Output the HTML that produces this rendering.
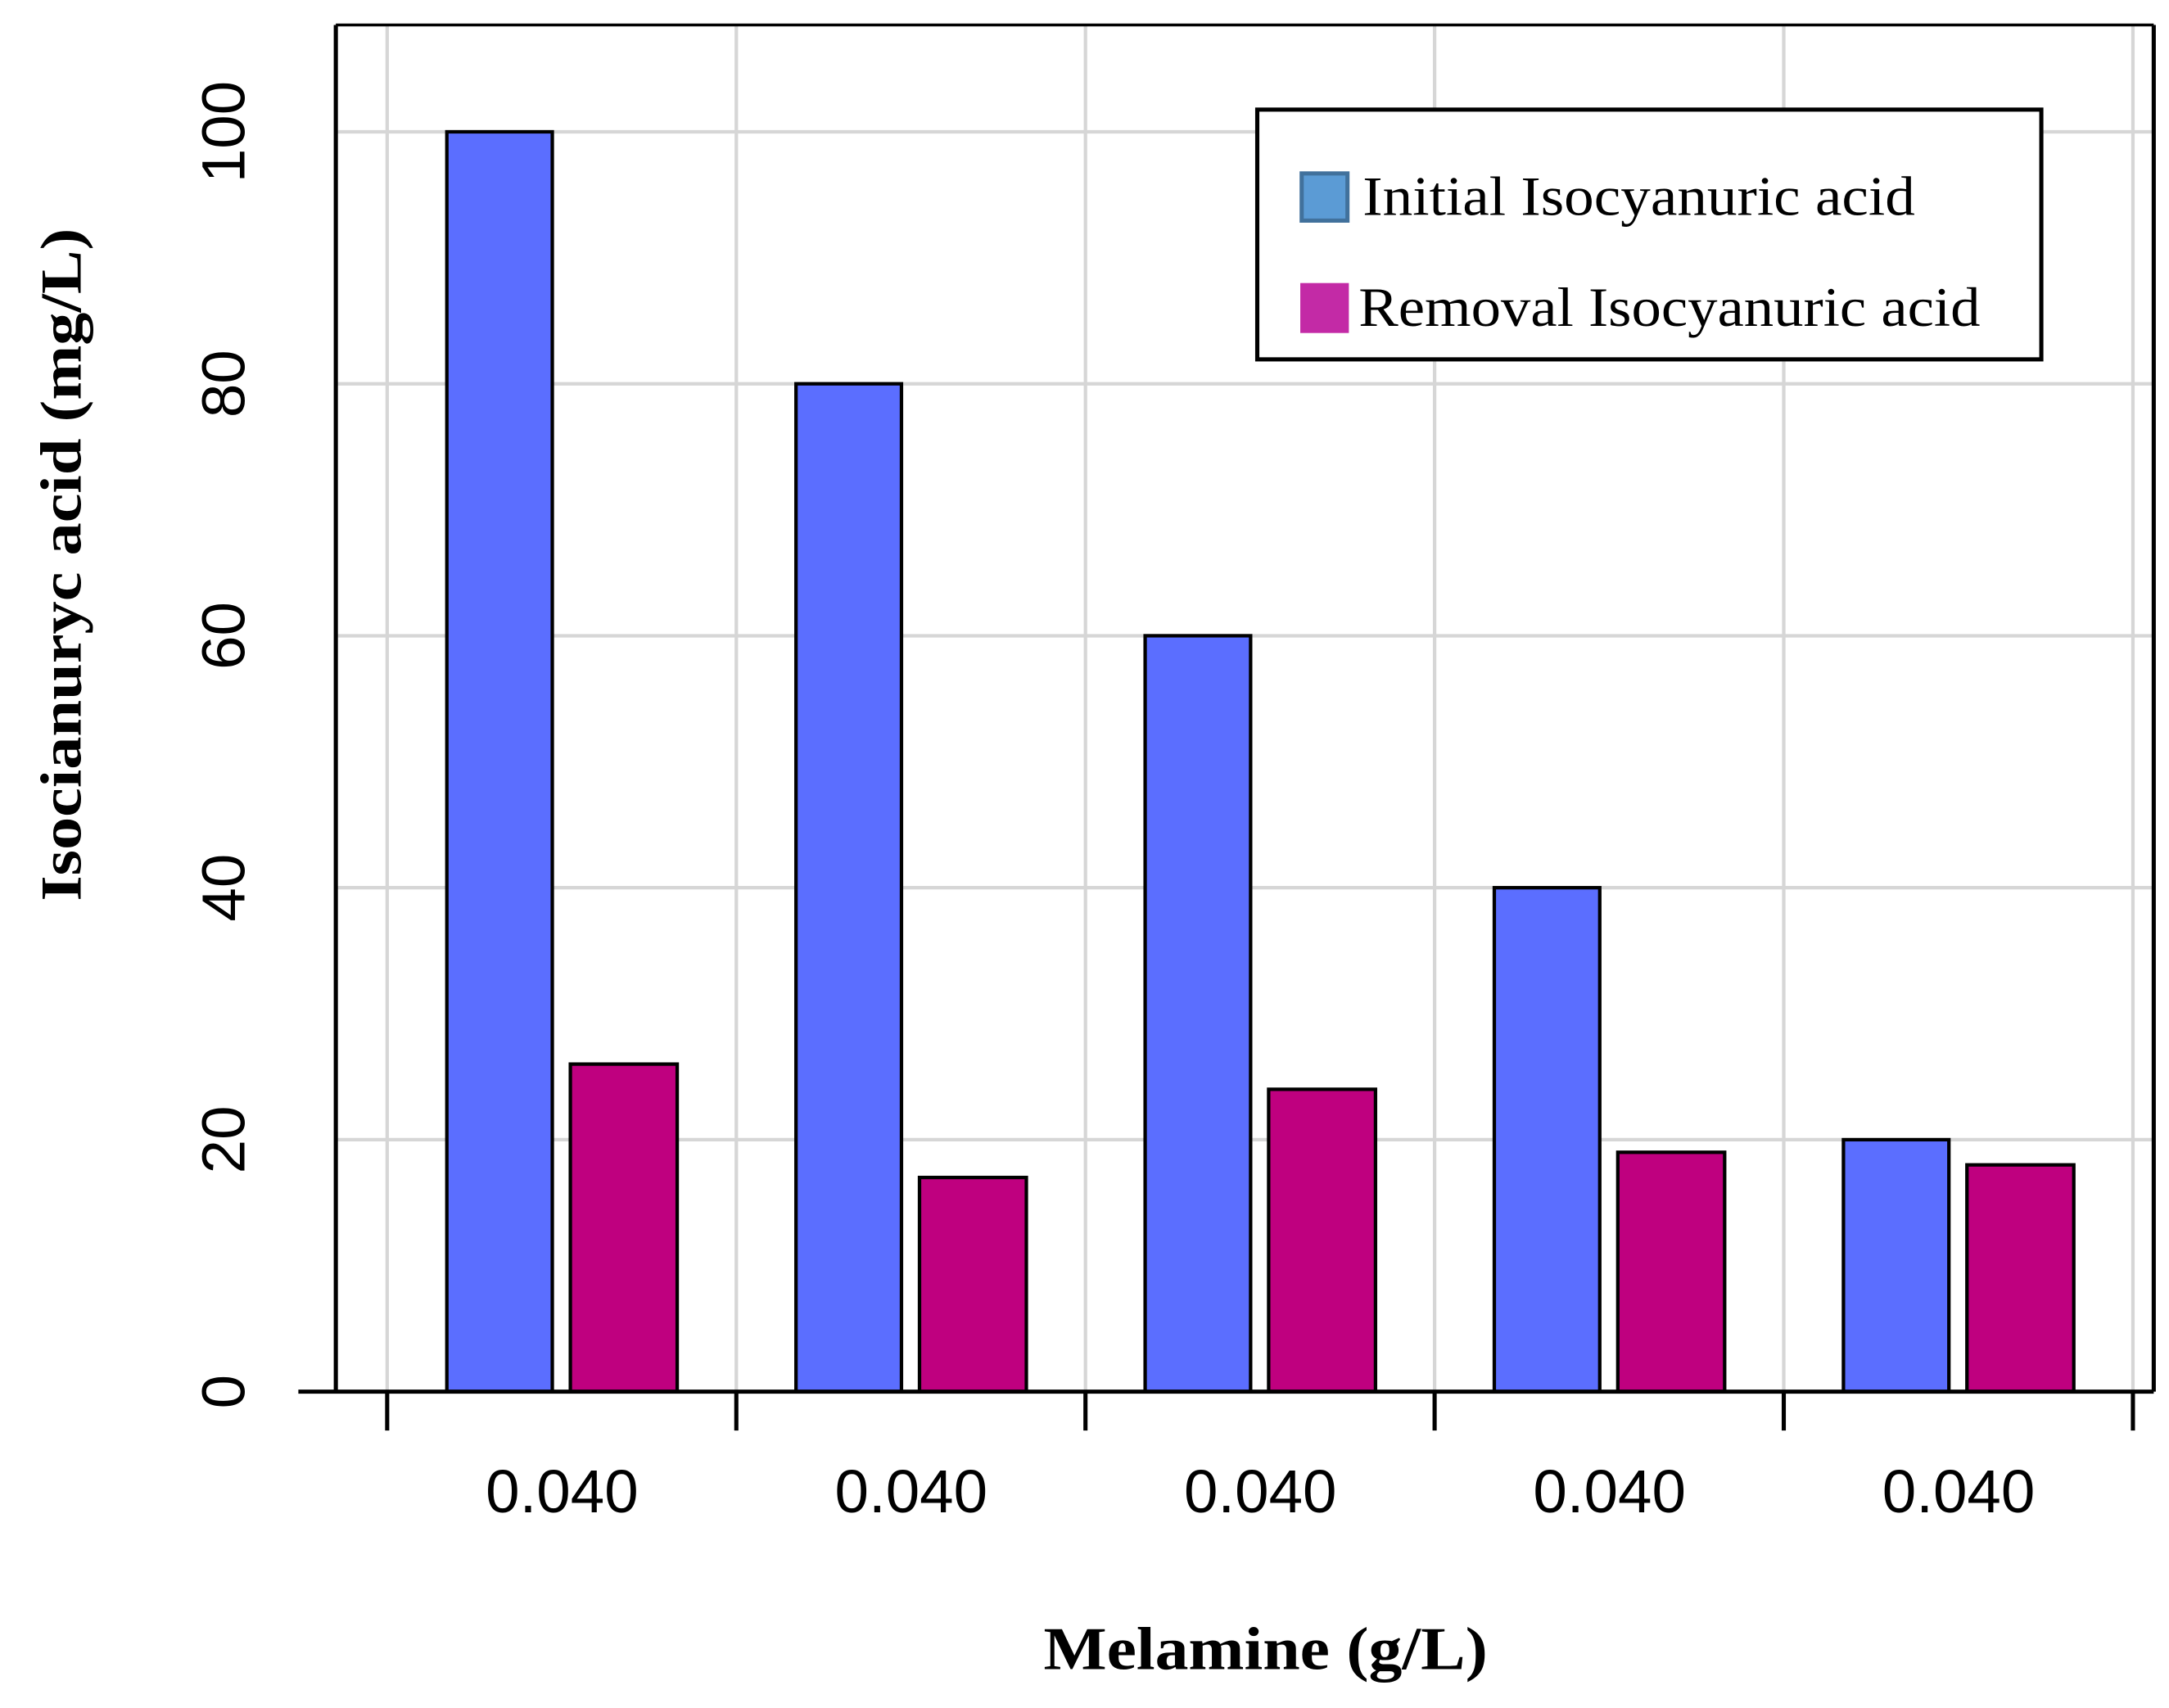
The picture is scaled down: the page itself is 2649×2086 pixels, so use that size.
<!DOCTYPE html>
<html><head><meta charset="utf-8"><style>html,body{margin:0;padding:0;background:#fff}svg{display:block}</style></head>
<body>
<svg id="chart" width="2649" height="2086" viewBox="0 0 1563 1231" preserveAspectRatio="none" xmlns="http://www.w3.org/2000/svg">
<rect x="0" y="0" width="1563" height="1231" fill="#fff"/>
<g id="grid"></g>
<g id="bars"></g>
<g id="axes"></g>
<text transform="translate(58,407) rotate(-90)" text-anchor="middle" font-family="Liberation Serif, serif" font-weight="bold" font-size="42" textLength="485" lengthAdjust="spacingAndGlyphs">Isocianuryc acid (mg/L)</text>
<text x="912" y="1203" text-anchor="middle" font-family="Liberation Serif, serif" font-weight="bold" font-size="44" textLength="320" lengthAdjust="spacingAndGlyphs">Melamine (g/L)</text>
<g>
<rect x="906" y="79" width="565" height="180" fill="#fff" stroke="#000" stroke-width="3"/>
<rect x="938" y="125" width="33" height="34" fill="#5b9bd5" stroke="#41719c" stroke-width="3"/>
<text x="982" y="155" font-family="Liberation Serif, serif" font-size="40" textLength="398" lengthAdjust="spacingAndGlyphs">Initial Isocyanuric acid</text>
<rect x="937" y="204" width="35" height="36" fill="#c32aa6"/>
<text x="979" y="235" font-family="Liberation Serif, serif" font-size="40" textLength="448" lengthAdjust="spacingAndGlyphs">Removal Isocyanuric acid</text>
</g>
</svg>
<script>
const categories = ["0.040","0.040","0.040","0.040","0.040"];
const initialValues = [100, 80, 60, 40, 20];
const removalValues = [26, 17, 24, 19, 18];
const yTicks = [0, 20, 40, 60, 80, 100];

const NS = "http://www.w3.org/2000/svg";
const plotL = 242, plotR = 1552, plotT = 18, base = 1003;
const yScale = v => base - v * 9.08;
const groupX = i => 279 + i * 251.6;
function mk(tag, attrs, parent) {
  const e = document.createElementNS(NS, tag);
  for (const k in attrs) e.setAttribute(k, attrs[k]);
  parent.appendChild(e);
  return e;
}
const grid = document.getElementById('grid');
const bars = document.getElementById('bars');
const axes = document.getElementById('axes');

for (let i = 0; i <= categories.length; i++) {
  const gl = mk('line', {x1: groupX(i), x2: groupX(i), y1: plotT, y2: base, stroke: '#d6d6d6', 'stroke-width': 2.5}, grid);
  
  
}
yTicks.forEach(t => {
  if (t === 0) return;
  const gl = mk('line', {x1: plotL, x2: plotR, y1: yScale(t), y2: yScale(t), stroke: '#d6d6d6', 'stroke-width': 2.5}, grid);
  
  
});

categories.forEach((c, i) => {
  const gx = groupX(i);
  const b1 = mk('rect', {x: gx + 43, y: yScale(initialValues[i]), width: 76, height: base - yScale(initialValues[i]), fill: '#5b6eff', stroke: '#000', 'stroke-width': 2.5}, bars);
  
  
  const b2 = mk('rect', {x: gx + 132, y: yScale(removalValues[i]), width: 77, height: base - yScale(removalValues[i]), fill: '#bf007f', stroke: '#000', 'stroke-width': 2.5}, bars);
  
  
  const lbl = mk('text', {x: gx + 126, y: 1090, 'text-anchor': 'middle', 'font-family': 'Liberation Sans, sans-serif', 'font-size': 44}, axes);
  lbl.textContent = c;
  
  
});

mk('line', {x1: plotL, x2: plotL, y1: plotT, y2: base, stroke: '#000', 'stroke-width': 3}, axes);
mk('line', {x1: plotR, x2: plotR, y1: plotT, y2: base, stroke: '#000', 'stroke-width': 3}, axes);
mk('line', {x1: 215, x2: plotR, y1: base, y2: base, stroke: '#000', 'stroke-width': 3}, axes);
mk('line', {x1: plotL, x2: plotR, y1: plotT, y2: plotT, stroke: '#000', 'stroke-width': 2}, axes);
for (let i = 0; i <= categories.length; i++) {
  const tk = mk('line', {x1: groupX(i), x2: groupX(i), y1: base, y2: 1031, stroke: '#000', 'stroke-width': 3}, axes);
  
  
}
yTicks.forEach(t => {
  const y = yScale(t);
  const lbl = mk('text', {transform: 'translate(176,' + y + ') rotate(-90)', 'text-anchor': 'middle', 'font-family': 'Liberation Sans, sans-serif', 'font-size': 44}, axes);
  lbl.textContent = t;
  
  
});
</script>
</body></html>
